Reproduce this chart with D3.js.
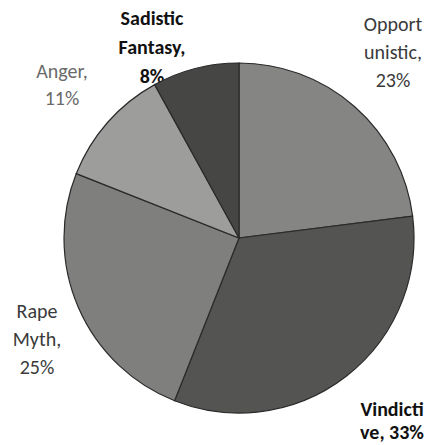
<!DOCTYPE html>
<html><head><meta charset="utf-8">
<script src="https://cdn.jsdelivr.net/npm/d3@7"></script>
<style>body{margin:0;background:#fff;}svg{display:block;}</style>
</head><body>
<svg id="c" width="436" height="445"></svg>
<script>
const categories = ["Opportunistic", "Vindictive", "Rape Myth", "Anger", "Sadistic Fantasy"];
const values = [23, 33, 25, 11, 8];
const labelLines = [["Opport", "unistic,", "23%"], ["Vindicti", "ve, 33%"], ["Rape", "Myth,", "25%"], ["Anger,", "11%"], ["Sadistic", "Fantasy,", "8%"]];
const colors = ["#858683", "#545452", "#7f807e", "#9d9e9c", "#464644"];
const labelColors = ["#3a3a3a", "#111111", "#3a3a3a", "#6a6a6a", "#111111"];
const labelBold = [false, true, false, false, true];
const labelPos = [[393, 31], [392, 416], [37, 318], [62, 78], [152, 25]];
const lineGap = [28, 23, 28, 27, 29];

const svg = d3.select("#c");
const cx = 239, cy = 238, r = 175;

// labels first (pie overlaps "8%")
const lg = svg.append("g");
categories.forEach((c, i) => {
  const t = lg.append("text")
    .attr("x", labelPos[i][0]).attr("y", labelPos[i][1])
    .attr("text-anchor", "middle")
    .attr("font-family", "Carlito, Lato, 'Open Sans', sans-serif")
    .attr("font-size", 20)
    .attr("font-weight", labelBold[i] ? "bold" : "normal")
    .attr("fill", labelColors[i]);
  labelLines[i].forEach((l, j) => {
    t.append("tspan").attr("x", labelPos[i][0]).attr("dy", j === 0 ? 0 : lineGap[i]).text(l);
  });
});

const pie = d3.pie().sort(null).value(d => d)(values);
const arc = d3.arc().innerRadius(0).outerRadius(r);
svg.append("g").attr("transform", `translate(${cx},${cy})`)
  .selectAll("path").data(pie).join("path")
  .attr("d", arc)
  .attr("fill", (d, i) => colors[i])
  .attr("stroke", "#2a2a2a").attr("stroke-width", 1.2);
</script>
</body></html>
